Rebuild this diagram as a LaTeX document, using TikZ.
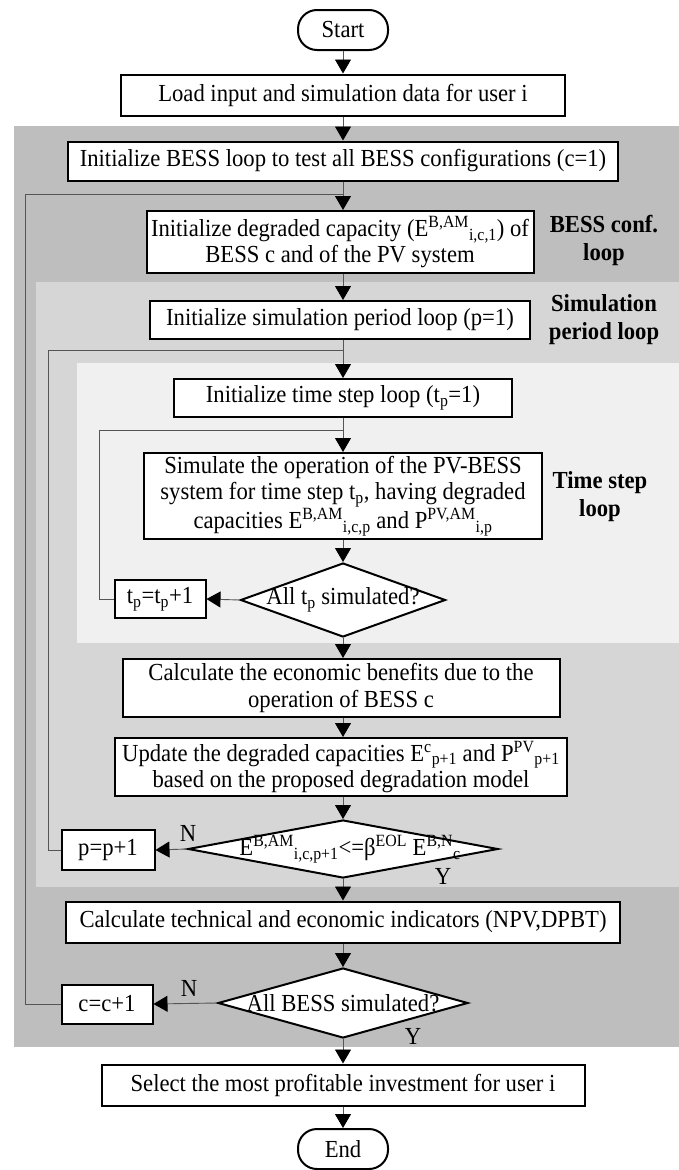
\documentclass[tikz,border=0pt]{standalone}
\usepackage{fontspec}
\setmainfont{Liberation Serif}[FakeStretch=0.925]
\usetikzlibrary{arrows.meta,shapes.geometric}
\definecolor{regA}{RGB}{190,190,190}
\definecolor{regB}{RGB}{214,214,214}
\definecolor{regC}{RGB}{240,240,240}
\definecolor{connc}{RGB}{85,85,85}
\begin{document}
\begin{tikzpicture}[x=1pt,y=-1pt,
  txt/.style={font=\fontsize{24.5}{26.5}\selectfont},
  box/.style={txt, draw=black, line width=2pt, fill=white, align=center, inner sep=0pt},
  term/.style={box, rounded corners=19pt, minimum width=90, minimum height=40},
  dia/.style={draw=black, line width=2pt, fill=white, shape=diamond, inner sep=0pt},
  dtext/.style={txt, inner sep=0pt},
  lbl/.style={font=\bfseries\fontsize{24.5}{28}\selectfont, align=center, inner sep=0pt},
  yn/.style={txt, inner sep=0pt},
  conn/.style={draw=connc, line width=0.9pt},
  arr/.style={conn, -{Triangle[length=14pt,width=16pt,color=black]}}
]
\useasboundingbox (0,0) rectangle (679,1170);
% background regions
\fill[regA] (14,126) rectangle (679,1047);
\fill[regB] (36,282) rectangle (679,887);
\fill[regC] (77,363) rectangle (679,643);

% nodes
\node[term] (start) at (343,30) {Start};
\node[box, minimum width=444, minimum height=41] (load) at (343,95) {Load input and simulation data for user i};
\node[box, minimum width=550, minimum height=39] (initb) at (343,161) {Initialize BESS loop to test all BESS configurations (c=1)};
\node[box, minimum width=387, minimum height=62] (initd) at (340,242) {Initialize degraded capacity (E\textsuperscript{B,AM}\textsubscript{i,c,1}) of\\BESS c and of the PV system};
\node[lbl] (lblA) at (604,240) {BESS conf.\\loop};
\node[box, minimum width=380, minimum height=38] (inits) at (340,320) {Initialize simulation period loop (p=1)};
\node[lbl] (lblB) at (604,320) {Simulation\\period loop};
\node[box, minimum width=338, minimum height=38] (initt) at (343,398) {Initialize time step loop (t\textsubscript{p}=1)};
\node[box, minimum width=398, minimum height=86] (sim) at (343,496) {Simulate the operation of the PV-BESS\\system for time step t\textsubscript{p}, having degraded\\capacities E\textsuperscript{B,AM}\textsubscript{i,c,p} and P\textsuperscript{PV,AM}\textsubscript{i,p}};
\node[lbl] (lblC) at (600,497) {Time step\\loop};
\node[dia, minimum width=205, minimum height=74] (dt) at (343,600) {};
\node[dtext] (dtt) at (dt) {All t\textsubscript{p} simulated?};
\node[box, minimum width=91, minimum height=38] (tp) at (160,599) {t\textsubscript{p}=t\textsubscript{p}+1};
\node[box, minimum width=437, minimum height=58] (econ) at (341,688) {Calculate the economic benefits due to the\\operation of BESS c};
\node[box, minimum width=452, minimum height=58] (upd) at (341,767) {Update the degraded capacities E\textsuperscript{c}\textsubscript{p+1} and P\textsuperscript{PV}\textsubscript{p+1}\\based on the proposed degradation model};
\node[dia, minimum width=310, minimum height=58] (dp) at (343,849) {};
\node[dtext] (dpt) at (350,849) {E\textsuperscript{B,AM}\textsubscript{i,c,p+1}<=β\textsuperscript{EOL} E\textsuperscript{B,N}\textsubscript{c}};
\node[box, minimum width=93, minimum height=40] (pp) at (108,850) {p=p+1};
\node[yn] (n1) at (188,833) {N};
\node[yn] (y1) at (443,876) {Y};
\node[box, minimum width=554, minimum height=41] (tech) at (343,922) {Calculate technical and economic indicators (NPV,DPBT)};
\node[dia, minimum width=250, minimum height=70] (db) at (343,1003) {};
\node[dtext] (dbt) at (db) {All BESS simulated?};
\node[box, minimum width=91, minimum height=39] (cc) at (107,1004) {c=c+1};
\node[yn] (n2) at (189,988) {N};
\node[yn] (y2) at (413,1036) {Y};
\node[box, minimum width=483, minimum height=41] (sel) at (343,1085) {Select the most profitable investment for user i};
\node[term] (end) at (343,1149) {End};

% loop coordinates
\coordinate (j1) at (343,194); \coordinate (k1) at (25,194);
\coordinate (j2) at (343,350); \coordinate (k2) at (48,350);
\coordinate (j3) at (343,430); \coordinate (k3) at (99,430);

% connectors
\draw[arr] (start) -- (load);
\draw[arr] (load) -- (initb);
\draw[arr] (initb.south) -- (initb.south |- initd.north);
\draw[arr] (initd.south -| initb.south) -- (initb.south |- inits.north);
\draw[arr] (initb.south |- inits.south) -- (initt.north);
\draw[arr] (initt) -- (sim);
\draw[arr] (sim) -- (dt);
\draw[arr] (dt.west) -- (tp.east);
\draw[arr] (dt.south) -- (dt.south |- econ.north);
\draw[arr] (dt.south |- econ.south) -- (dt.south |- upd.north);
\draw[arr] (dt.south |- upd.south) -- (dp.north);
\draw[arr] (dp.west) -- (pp.east);
\draw[arr] (dp.south) -- (tech.north);
\draw[arr] (tech) -- (db.north);
\draw[arr] (db.west) -- (cc.east);
\draw[arr] (db.south) -- (sel.north);
\draw[arr] (sel) -- (end);
\draw[conn] (tp.west) -| (k3) -- (j3);
\draw[conn] (pp.west) -| (k2) -- (j2);
\draw[conn] (cc.west) -| (k1) -- (j1);
\end{tikzpicture}
\end{document}
